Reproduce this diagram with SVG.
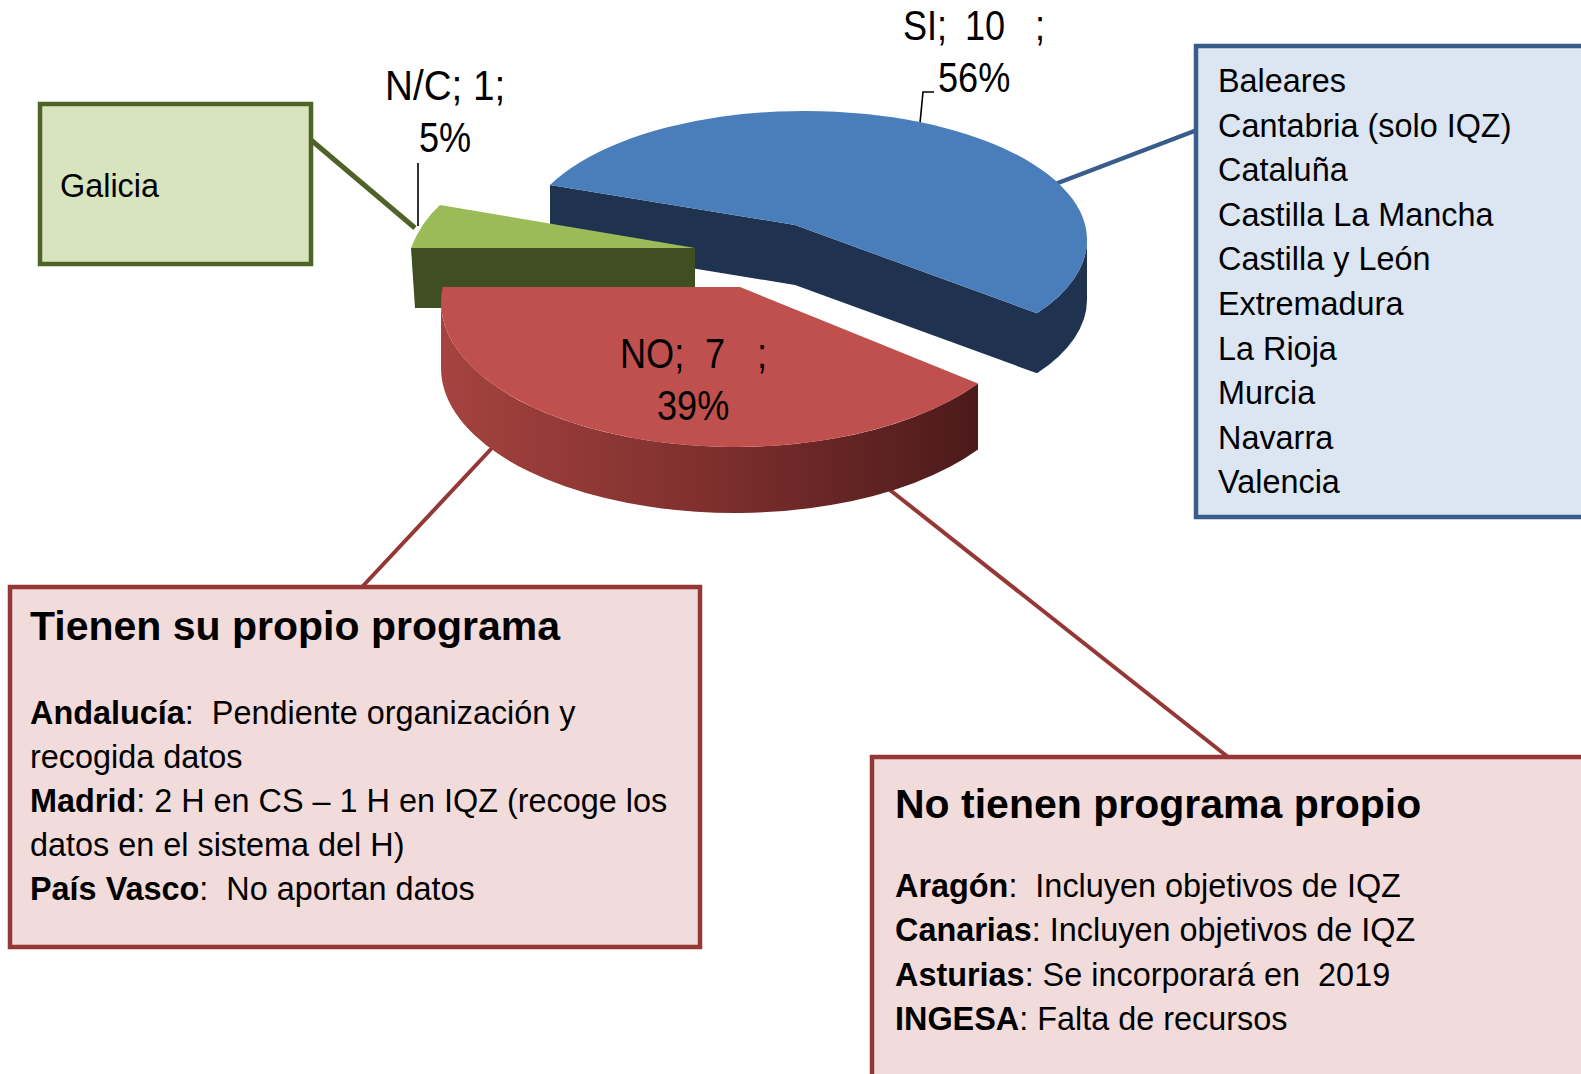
<svg xmlns="http://www.w3.org/2000/svg" width="1581" height="1074" viewBox="0 0 1581 1074">
<defs>
<style>
.t{font-family:"Liberation Sans",Arial,sans-serif;font-size:32.4px;fill:#000}
.b{font-weight:bold}
.h{font-family:"Liberation Sans",Arial,sans-serif;font-size:41px;font-weight:bold;fill:#000}
.lbl{font-family:"Liberation Sans",Arial,sans-serif;font-size:42px;fill:#000}
.lead{fill:none;stroke:#000;stroke-width:1.6}
.redbox{fill:#f2dcdb;stroke:#953735;stroke-width:4.5}
.navy{fill:#1f3250}
</style>
<linearGradient id="redSide" x1="0" y1="0" x2="1" y2="0">
<stop offset="0" stop-color="#a5433f"/>
<stop offset="0.5" stop-color="#7e2f2e"/>
<stop offset="1" stop-color="#4c1a1a"/>
</linearGradient>
</defs>
<rect width="1581" height="1074" fill="#fff"/>

<g id="connectors">
<line x1="311" y1="140" x2="415" y2="228" stroke="#4f6228" stroke-width="5"/>
<line x1="1050" y1="186" x2="1197" y2="130" stroke="#385d8a" stroke-width="4.5"/>
<line x1="492" y1="448" x2="362" y2="587" stroke="#953735" stroke-width="4"/>
<line x1="890" y1="490" x2="1228" y2="757" stroke="#953735" stroke-width="4"/>
<path class="lead" d="M418,163 L418,226"/>
<path class="lead" d="M920,123 L923,92 L934,92"/>
</g>

<g id="pie-si">
<path class="navy" d="M550,184.9 L795,225 L795,285 L550,244.9 Z"/>
<path class="navy" d="M795,225 L1037,313.3 L1037,373.3 L795,285 Z"/>
<path class="navy" d="M1037,313.3 A282 129 0 0 0 1087,240 L1087,300 A282 129 0 0 1 1037,373.3 Z"/>
<path d="M550,184.9 L795,225 L1037,313.3 A282 129 0 1 0 550,184.9 Z" fill="#4a7ebb"/>
</g>

<g id="pie-nc">
<path d="M411,248 L695,248 L695,308 L415,308 Z" fill="#3f4f21"/>
<path d="M695,248 L440,205 Q421,222 411,248 Z" fill="#9bbb59"/>
</g>

<g id="pie-no">
<path d="M978,383.6 A294 145 0 0 1 441,302 L441,368 A294 145 0 0 0 978,449.6 Z" fill="url(#redSide)"/>
<path d="M442.6,287 L740,287 L978,383.6 A294 145 0 0 1 442.6,287 Z" fill="#c0504d"/>
</g>

<g id="labels">
<text class="lbl" transform="translate(0 100) scale(0.92 1)"><tspan x="418.5">N/C; 1;</tspan></text>
<text class="lbl" transform="translate(0 152) scale(0.86 1)"><tspan x="487.2">5%</tspan></text>
<text class="lbl" transform="translate(0 40) scale(0.86 1)"><tspan x="1050">SI;</tspan><tspan x="1122.1">10</tspan><tspan x="1203.5">;</tspan></text>
<text class="lbl" transform="translate(0 92) scale(0.86 1)"><tspan x="1090.7">56%</tspan></text>
<text class="lbl" transform="translate(0 368) scale(0.86 1)"><tspan x="720.9">NO;</tspan><tspan x="819.8">7</tspan><tspan x="880.2">;</tspan></text>
<text class="lbl" transform="translate(0 420) scale(0.86 1)"><tspan x="764">39%</tspan></text>
</g>

<g id="box-galicia">
<rect x="40" y="104" width="271" height="160" fill="#d7e4bd" stroke="#4f6228" stroke-width="4.5"/>
<text class="t" x="60" y="197">Galicia</text>
</g>

<g id="box-si">
<rect x="1196" y="46" width="420" height="471" fill="#dce6f2" stroke="#385d8a" stroke-width="4.5"/>
<text class="t" x="1218" y="92">Baleares</text>
<text class="t" x="1218" y="136.6">Cantabria (solo IQZ)</text>
<text class="t" x="1218" y="181.2">Cataluña</text>
<text class="t" x="1218" y="225.8">Castilla La Mancha</text>
<text class="t" x="1218" y="270.4">Castilla y León</text>
<text class="t" x="1218" y="315">Extremadura</text>
<text class="t" x="1218" y="359.6">La Rioja</text>
<text class="t" x="1218" y="404.2">Murcia</text>
<text class="t" x="1218" y="448.8">Navarra</text>
<text class="t" x="1218" y="493.4">Valencia</text>
</g>

<g id="box-propio">
<rect class="redbox" x="10" y="587" width="690" height="360"/>
<text class="h" x="30" y="640">Tienen su propio programa</text>
<text class="t" x="30" y="724" xml:space="preserve"><tspan class="b">Andalucía</tspan>:  Pendiente organización y</text>
<text class="t" x="30" y="768">recogida datos</text>
<text class="t" x="30" y="812"><tspan class="b">Madrid</tspan>: 2 H en CS – 1 H en IQZ (recoge los</text>
<text class="t" x="30" y="856">datos en el sistema del H)</text>
<text class="t" x="30" y="900" xml:space="preserve"><tspan class="b">País Vasco</tspan>:  No aportan datos</text>
</g>

<g id="box-no-propio">
<rect class="redbox" x="872" y="757" width="760" height="360"/>
<text class="h" x="895" y="818">No tienen programa propio</text>
<text class="t" x="895" y="897" xml:space="preserve"><tspan class="b">Aragón</tspan>:  Incluyen objetivos de IQZ</text>
<text class="t" x="895" y="941"><tspan class="b">Canarias</tspan>: Incluyen objetivos de IQZ</text>
<text class="t" x="895" y="986" xml:space="preserve"><tspan class="b">Asturias</tspan>: Se incorporará en  2019</text>
<text class="t" x="895" y="1030"><tspan class="b">INGESA</tspan>: Falta de recursos</text>
</g>
</svg>
